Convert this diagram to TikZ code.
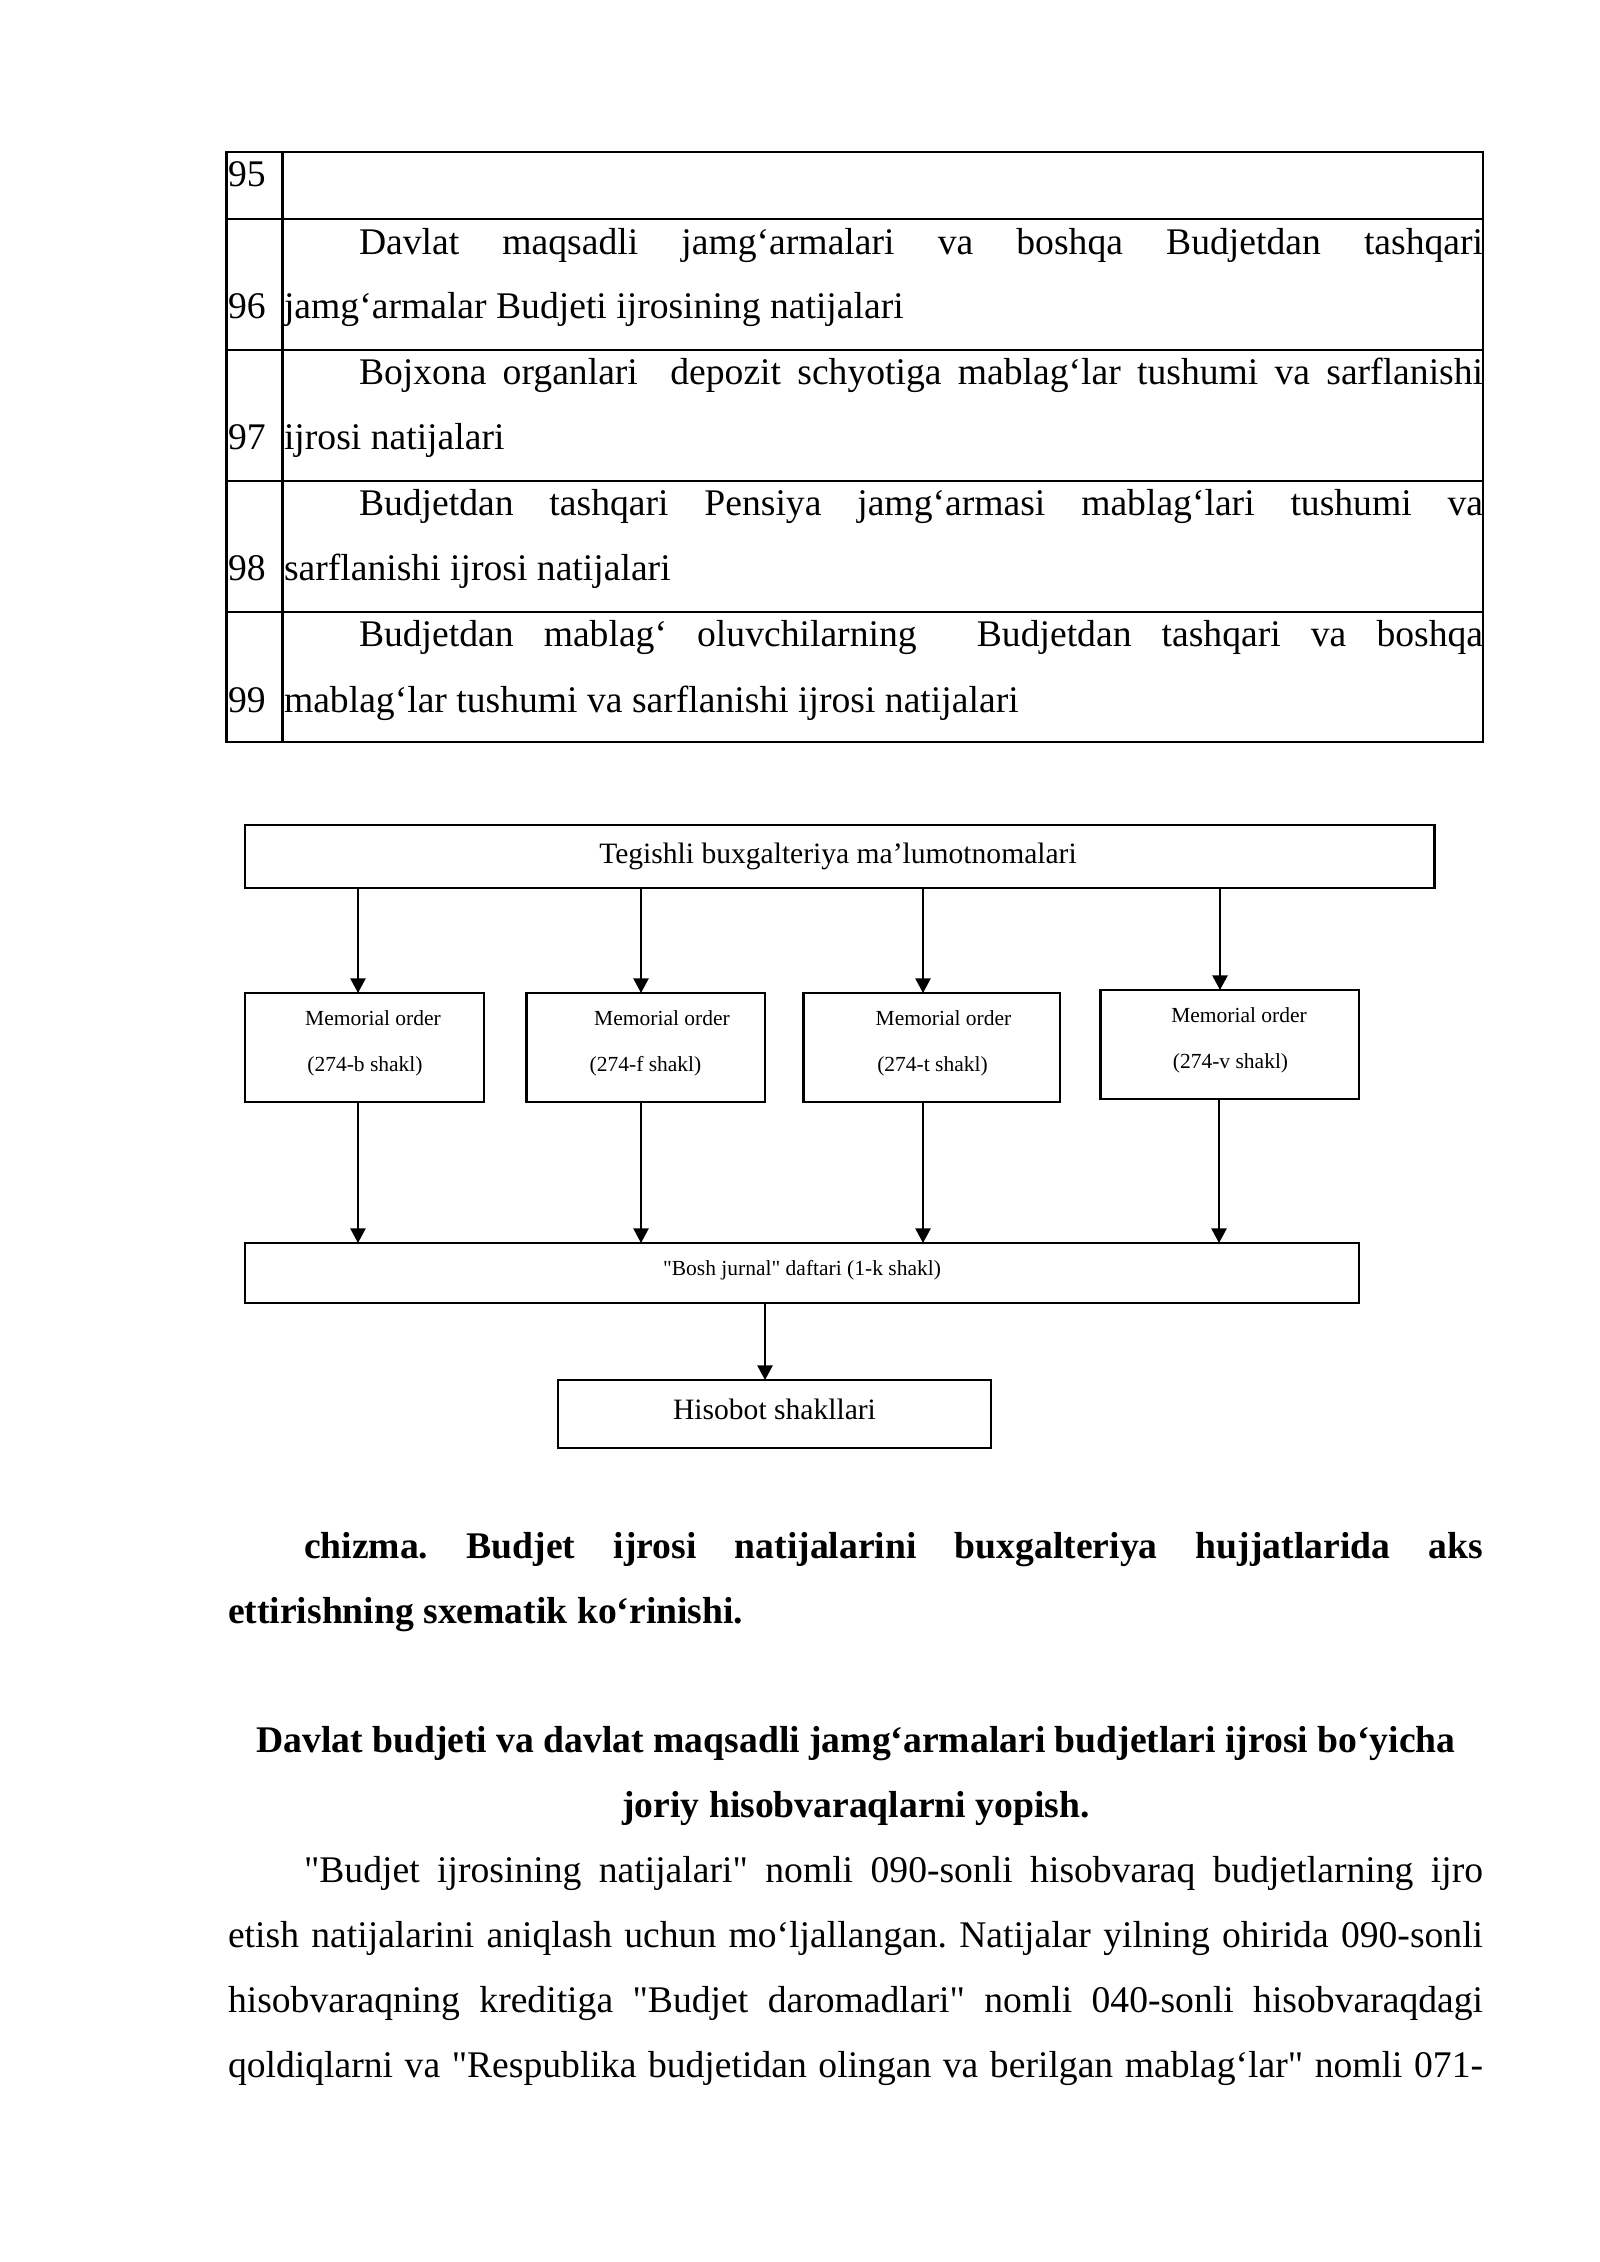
\documentclass[tikz,border=0pt]{standalone}
\usepackage{fontspec}
\setmainfont{Liberation Serif}
\newfontfamily\sqf{Liberation Serif}
\newcommand\qq{{\sqf"}}
\usetikzlibrary{arrows.meta}
\newlength\pxu
\setlength\pxu{0.37206pt}
\newcommand\jl[2]{\makebox[#1\pxu][s]{#2}}
\frenchspacing
\begin{document}
\begin{tikzpicture}[x=0.37206pt,y=-0.37206pt,
  txt/.style={inner sep=0pt,outer sep=0pt,anchor=base west,font=\fontsize{14}{16}\selectfont\frenchspacing},
  btxt/.style={txt,font=\fontsize{14}{16}\selectfont\bfseries\frenchspacing},
  ctxt/.style={btxt,anchor=base},
  dsmall/.style={inner sep=0pt,outer sep=0pt,anchor=base,font=\fontsize{8}{10}\selectfont},
  dlarge/.style={inner sep=0pt,outer sep=0pt,anchor=base,font=\fontsize{11}{13}\selectfont},
  box/.style={draw,line width=0.8pt,inner sep=0pt,outer sep=0pt},
  grid/.style={line width=0.75pt},
  arr/.style={line width=0.7pt,-{Triangle[length=5.4pt,width=5.6pt]}}]
\useasboundingbox[fill=white] (0,0) rectangle (1600,2262);
% ---------- table ----------
\draw[grid] (226.5,152) rectangle (1483,742);
\draw[grid] (282.5,152) -- (282.5,742);
\foreach \yy in {219,350,481,612} \draw[grid] (226.5,\yy) -- (1483,\yy);
\node[txt] (n95) at (228,187) {95};
\node[txt] (n96) at (228,319) {96};
\node[txt] (n97) at (228,450) {97};
\node[txt] (n98) at (228,581) {98};
\node[txt] (n99) at (228,712) {99};
\node[txt] (r96a) at (359,255) {\jl{1124}{Davlat maqsadli jamg‘armalari va boshqa Budjetdan tashqari}};
\node[txt] (r96b) at (284,319) {jamg‘armalar Budjeti ijrosining natijalari};
\node[txt] (r97a) at (359,385) {\jl{1124}{Bojxona organlari\ \ depozit schyotiga mablag‘lar tushumi va sarflanishi}};
\node[txt] (r97b) at (284,450) {ijrosi natijalari};
\node[txt] (r98a) at (359,516) {\jl{1124}{Budjetdan tashqari Pensiya jamg‘armasi mablag‘lari tushumi va}};
\node[txt] (r98b) at (284,581) {sarflanishi ijrosi natijalari};
\node[txt] (r99a) at (359,647) {\jl{1124}{Budjetdan mablag‘ oluvchilarning\ \ Budjetdan tashqari va boshqa}};
\node[txt] (r99b) at (284,712) {mablag‘lar tushumi va sarflanishi ijrosi natijalari};
% ---------- diagram ----------
\node[box,minimum width=1189.5\pxu,minimum height=63\pxu] (top) at (839.75,856.5) {};
\node[box,minimum width=239\pxu,minimum height=109\pxu] (m1) at (364.5,1047.5) {};
\node[box,minimum width=238.5\pxu,minimum height=109\pxu] (m2) at (645.75,1047.5) {};
\node[box,minimum width=256.5\pxu,minimum height=109\pxu] (m3) at (931.75,1047.5) {};
\node[box,minimum width=258.5\pxu,minimum height=109\pxu] (m4) at (1229.75,1044.5) {};
\node[box,minimum width=1114\pxu,minimum height=60\pxu] (bosh) at (802,1273) {};
\node[box,minimum width=433\pxu,minimum height=68\pxu] (his) at (774.5,1414) {};
\node[dlarge] (toptxt) at (838,863) {Tegishli buxgalteriya ma’lumotnomalari};
\node[dsmall] (m1a) at (373,1025) {Memorial order};
\node[dsmall] (m1b) at (365,1071) {(274-b shakl)};
\node[dsmall] (m2a) at (662,1025) {Memorial order};
\node[dsmall] (m2b) at (645.5,1071) {(274-f shakl)};
\node[dsmall] (m3a) at (943.5,1025) {Memorial order};
\node[dsmall] (m3b) at (932.5,1071) {(274-t shakl)};
\node[dsmall] (m4a) at (1239,1022) {Memorial order};
\node[dsmall] (m4b) at (1230.5,1068) {(274-v shakl)};
\node[dsmall] (boshtxt) at (802,1275) {\qq Bosh jurnal\qq{} daftari (1-k shakl)};
\node[dlarge] (histxt) at (774.5,1419) {Hisobot shakllari};
\coordinate (c1) at (358,0);
\coordinate (c2) at (641,0);
\coordinate (c3) at (923,0);
\coordinate (c4) at (1220,0);
\coordinate (c4b) at (1219,0);
\coordinate (c5) at (765,0);
\draw[arr] (top.south -| c1) -- (m1.north -| c1);
\draw[arr] (top.south -| c2) -- (m2.north -| c2);
\draw[arr] (top.south -| c3) -- (m3.north -| c3);
\draw[arr] (top.south -| c4) -- (m4.north -| c4);
\draw[arr] (m1.south -| c1) -- (bosh.north -| c1);
\draw[arr] (m2.south -| c2) -- (bosh.north -| c2);
\draw[arr] (m3.south -| c3) -- (bosh.north -| c3);
\draw[arr] (m4.south -| c4b) -- (bosh.north -| c4b);
\draw[arr] (bosh.south -| c5) -- (his.north -| c5);
% ---------- caption and text ----------
\node[btxt] (cap1) at (304,1558) {\jl{1179}{chizma. Budjet ijrosi natijalarini buxgalteriya hujjatlarida aks}};
\node[btxt] (cap2) at (228,1623) {ettirishning sxematik ko‘rinishi.};
\node[ctxt] (h1) at (856,1752) {Davlat budjeti va davlat maqsadli jamg‘armalari budjetlari ijrosi bo‘yicha};
\node[ctxt] (h2) at (856,1817) {joriy hisobvaraqlarni yopish.};
\node[txt] (p1) at (304,1882) {\jl{1179}{\qq Budjet ijrosining natijalari\qq{} nomli 090-sonli hisobvaraq budjetlarning ijro}};
\node[txt] (p2) at (228,1947) {\jl{1255}{etish natijalarini aniqlash uchun mo‘ljallangan. Natijalar yilning ohirida 090-sonli}};
\node[txt] (p3) at (228,2012) {\jl{1255}{hisobvaraqning kreditiga \qq Budjet daromadlari\qq{} nomli 040-sonli hisobvaraqdagi}};
\node[txt] (p4) at (228,2077) {\jl{1255}{qoldiqlarni va \qq Respublika budjetidan olingan va berilgan mablag‘lar\qq{} nomli 071-}};
\end{tikzpicture}
\end{document}
